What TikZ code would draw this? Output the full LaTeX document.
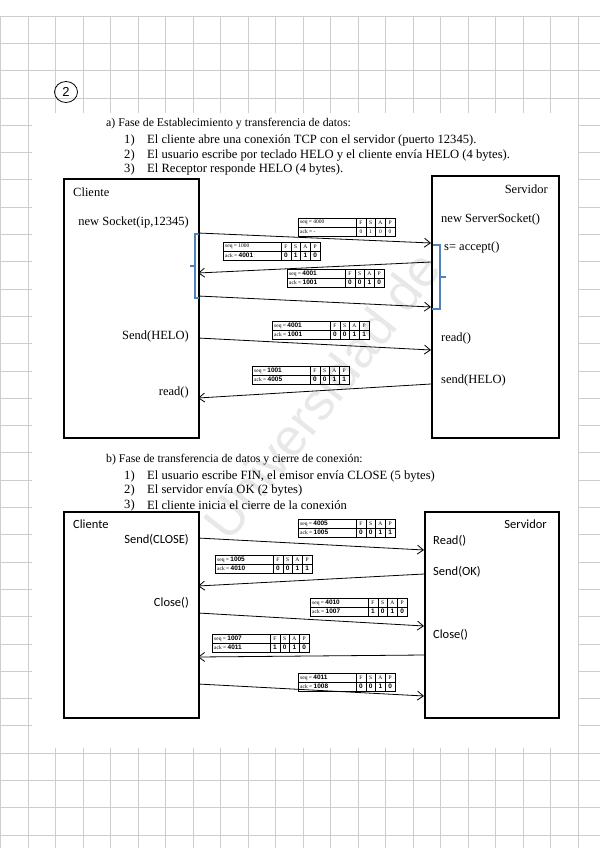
\documentclass[tikz,border=0pt]{standalone}
\usepackage{fontspec}
\setmainfont{Liberation Serif}
\newfontfamily\calib{Carlito}
\newfontfamily\handf{Liberation Sans}
\usetikzlibrary{arrows.meta,shapes.geometric}
\definecolor{gridc}{RGB}{205,205,205}
\definecolor{bracec}{RGB}{79,129,189}
\newcommand\tl{\fontsize{5.5}{6}\selectfont}
\newcommand\hw[1]{{\handf\bfseries\fontsize{6.5}{7}\selectfont #1}}
\newcommand\segtab[9]{%
\begin{scope}[shift={(#2,#3)}]
\draw[tabl] (0,0) rectangle (97,18);
\draw[tabl] (0,9) -- (97,9);
\draw[tabl] (58,0) -- (58,18);
\draw[tabl] (67.75,0) -- (67.75,18);
\draw[tabl] (77.5,0) -- (77.5,18);
\draw[tabl] (87.25,0) -- (87.25,18);
\node[tcell,anchor=west] (#1-seq) at (2,4.5) {seq = #4};
\node[tcell,anchor=west] (#1-ack) at (2,13.5) {ack = #5};
\node[tcell] (#1-hF) at (62.9,4.5) {F};
\node[tcell] (#1-hS) at (72.6,4.5) {S};
\node[tcell] (#1-hA) at (82.4,4.5) {A};
\node[tcell] (#1-hP) at (92.1,4.5) {P};
\node[tcell] (#1-vF) at (62.9,13.5) {#6};
\node[tcell] (#1-vS) at (72.6,13.5) {#7};
\node[tcell] (#1-vA) at (82.4,13.5) {#8};
\node[tcell] (#1-vP) at (92.1,13.5) {#9};
\end{scope}}
\begin{document}
\begin{tikzpicture}[x=1pt,y=-1pt,
  tabl/.style={line width=0.45pt},
  tcell/.style={inner sep=0pt,font=\tl},
  lane/.style={draw,line width=1.8pt,anchor=north west,inner sep=0pt},
  msg/.style={line width=0.8pt,-{Straight Barb[length=6pt,width=9pt]}},
  brace/.style={draw=bracec,line width=2.2pt},
  htxt/.style={inner sep=0pt,font=\fontsize{11.8}{13}\selectfont},
  txt/.style={inner sep=0pt,font=\fontsize{12.6}{14}\selectfont},
  lbl/.style={inner sep=0pt,font=\fontsize{12.5}{14}\selectfont},
  slbl/.style={inner sep=0pt,font=\calib\fontsize{12.5}{14}\selectfont}]
\useasboundingbox (0,0) rectangle (600,848);
\fill[white] (0,0) rectangle (600,848);
% grid paper
\foreach \i in {0,...,21} \draw[gridc,line width=0.7pt] (\i*27.5+0.5,16) -- (\i*27.5+0.5,848);
\foreach \j in {0,...,30} \draw[gridc,line width=0.7pt] (0,16+\j*27.3) -- (600,16+\j*27.3);
% pasted sheet
\fill[white] (32,113) rectangle (578,748);
% circled number
\node[draw,ellipse,line width=0.8pt,minimum width=23,minimum height=21,inner sep=0pt,font=\handf\fontsize{13}{14}\selectfont] (num) at (66,92) {2};
% watermark
\node[rotate=52,text=gray!18,font=\handf\fontsize{52}{56}\selectfont,inner sep=0pt] (wm) at (322,395) {Universidad de};
% ---------- section a ----------
\node[htxt,anchor=west] (ha) at (106,124) {a) Fase de Establecimiento y transferencia de datos:};
\node[txt,anchor=west] (na1) at (124,140) {1)};
\node[txt,anchor=west] (ta1) at (147,140) {El cliente abre una conexión TCP con el servidor (puerto 12345).};
\node[txt,anchor=west] (na2) at (124,155) {2)};
\node[txt,anchor=west] (ta2) at (147,155) {El usuario escribe por teclado HELO y el cliente envía HELO (4 bytes).};
\node[txt,anchor=west] (na3) at (124,169) {3)};
\node[txt,anchor=west] (ta3) at (147,169) {El Receptor responde HELO (4 bytes).};

\node[lane,minimum width=135,minimum height=259] (cliA) at (63,178) {};
\node[lane,minimum width=127,minimum height=262] (srvA) at (431,175) {};

\node[lbl,anchor=west] (cA0) at (73,192) {Cliente};
\node[lbl,anchor=east] (cA1) at (189,222) {new Socket(ip,12345)};
\node[lbl,anchor=east] (cA2) at (189,336) {Send(HELO)};
\node[lbl,anchor=east] (cA3) at (189,392) {read()};
\node[lbl,anchor=east] (sA0) at (548,189) {Servidor};
\node[lbl,anchor=west] (sA1) at (441,219) {new ServerSocket()};
\node[lbl,anchor=west] (sA2) at (444,247) {s= accept()};
\node[lbl,anchor=west] (sA3) at (441,338) {read()};
\node[lbl,anchor=west] (sA4) at (441,380) {send(HELO)};

% braces
\draw[brace] (199,234) -- (195,234) -- (195,298) -- (199,298);
\draw[brace] (195,266) -- (190,266);
\draw[brace] (433,245) -- (440,245) -- (440,309) -- (432,309);
\draw[brace] (440,277) -- (446,277);

\coordinate (a1s) at (198,233); \coordinate (a1e) at (431,243);
\coordinate (a2s) at (431,262); \coordinate (a2e) at (198,273);
\coordinate (a3s) at (198,296); \coordinate (a3e) at (431,307);
\coordinate (a4s) at (198,338); \coordinate (a4e) at (431,350);
\coordinate (a5s) at (431,384); \coordinate (a5e) at (198,398);
\draw[msg] (a1s) -- (a1e);
\draw[msg] (a2s) -- (a2e);
\draw[msg] (a3s) -- (a3e);
\draw[msg] (a4s) -- (a4e);
\draw[msg] (a5s) -- (a5e);

\segtab{A1}{298}{218}{4000}{-}{0}{1}{0}{0}
\segtab{A2}{223}{242}{1000}{\hw{4001}}{\hw0}{\hw1}{\hw1}{\hw0}
\segtab{A3}{287}{269}{\hw{4001}}{\hw{1001}}{\hw0}{\hw0}{\hw1}{\hw0}
\segtab{A4}{272}{321}{\hw{4001}}{\hw{1001}}{\hw0}{\hw0}{\hw1}{\hw1}
\segtab{A5}{252}{366}{\hw{1001}}{\hw{4005}}{\hw0}{\hw0}{\hw1}{\hw1}

% ---------- section b ----------
\node[htxt,anchor=west] (hb) at (106,460) {b) Fase de transferencia de datos y cierre de conexión:};
\node[txt,anchor=west] (nb1) at (124,476) {1)};
\node[txt,anchor=west] (tb1) at (147,476) {El usuario escribe FIN, el emisor envía CLOSE (5 bytes)};
\node[txt,anchor=west] (nb2) at (124,490) {2)};
\node[txt,anchor=west] (tb2) at (147,490) {El servidor envía OK (2 bytes)};
\node[txt,anchor=west] (nb3) at (124,505) {3)};
\node[txt,anchor=west] (tb3) at (147,505) {El cliente inicia el cierre de la conexión};

\node[lane,minimum width=135,minimum height=206] (cliB) at (63,511) {};
\node[lane,minimum width=134,minimum height=206] (srvB) at (424,511) {};

\node[slbl,anchor=west] (cB0) at (73,524) {Cliente};
\node[slbl,anchor=east] (cB1) at (189,540) {Send(CLOSE)};
\node[slbl,anchor=east] (cB2) at (189,603) {Close()};
\node[slbl,anchor=east] (sB0) at (547,524) {Servidor};
\node[slbl,anchor=west] (sB1) at (433,541) {Read()};
\node[slbl,anchor=west] (sB2) at (433,572) {Send(OK)};
\node[slbl,anchor=west] (sB3) at (433,635) {Close()};

\coordinate (b1s) at (198,538); \coordinate (b1e) at (424,550);
\coordinate (b2s) at (424,574); \coordinate (b2e) at (198,586);
\coordinate (b3s) at (198,613); \coordinate (b3e) at (424,626);
\coordinate (b4s) at (424,655); \coordinate (b4e) at (198,657);
\coordinate (b5s) at (198,684); \coordinate (b5e) at (424,696);
\draw[msg] (b1s) -- (b1e);
\draw[msg] (b2s) -- (b2e);
\draw[msg] (b3s) -- (b3e);
\draw[msg] (b4s) -- (b4e);
\draw[msg] (b5s) -- (b5e);

\segtab{B1}{298}{519}{\hw{4005}}{\hw{1005}}{\hw0}{\hw0}{\hw1}{\hw1}
\segtab{B2}{215}{555}{\hw{1005}}{\hw{4010}}{\hw0}{\hw0}{\hw1}{\hw1}
\segtab{B3}{310}{598}{\hw{4010}}{\hw{1007}}{\hw1}{\hw0}{\hw1}{\hw0}
\segtab{B4}{212}{634}{\hw{1007}}{\hw{4011}}{\hw1}{\hw0}{\hw1}{\hw0}
\segtab{B5}{298}{673}{\hw{4011}}{\hw{1008}}{\hw0}{\hw0}{\hw1}{\hw0}
\end{tikzpicture}
\end{document}
